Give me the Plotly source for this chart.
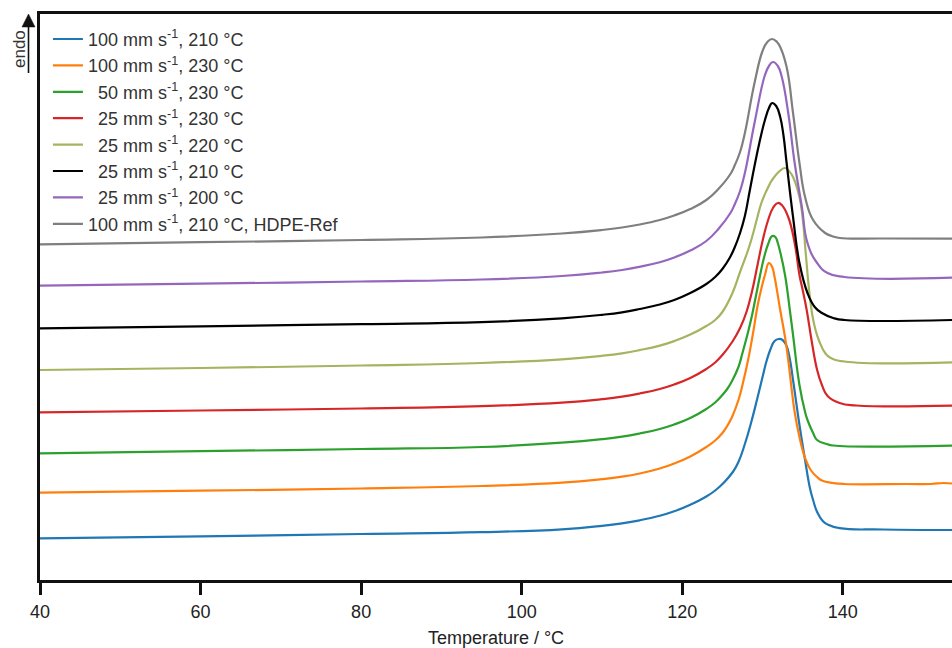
import plotly.graph_objects as go

# ---- data (temperature in °C, heat flow in arbitrary units, endo up, curves offset) ----
labels = [
    "100 mm s<sup>-1</sup>, 210 °C",
    "100 mm s<sup>-1</sup>, 230 °C",
    "\u00a0\u00a050 mm s<sup>-1</sup>, 230 °C",
    "\u00a0\u00a025 mm s<sup>-1</sup>, 230 °C",
    "\u00a0\u00a025 mm s<sup>-1</sup>, 220 °C",
    "\u00a0\u00a025 mm s<sup>-1</sup>, 210 °C",
    "\u00a0\u00a025 mm s<sup>-1</sup>, 200 °C",
    "100 mm s<sup>-1</sup>, 210 °C, HDPE-Ref",
]
colors = ["#1f77b4", "#ff7f0e", "#2ca02c", "#d62728", "#a4b461", "#000000", "#9467bd", "#7f7f7f"]

t_blue = [40, 60, 80, 95, 105, 110, 112.5, 114.7, 117.2, 119, 121, 123, 124.1, 125.2, 126.3, 127.0, 127.8, 128.6, 129.3, 130.0, 130.5, 131.0, 131.5, 132.0, 132.5, 133.0, 133.4, 133.8, 134.6, 135.3, 135.9, 136.3, 136.8, 137.5, 138.1, 139.6, 145, 153.6]
h_blue = [41.7, 43.7, 46, 47.8, 50.7, 54.2, 56.7, 59.7, 64.2, 68.7, 75.2, 83.5, 89.5, 97.5, 108, 118, 136, 158, 180, 203, 219, 231, 239, 241, 240, 234, 221, 200, 155, 120, 92, 80, 68, 59, 55.5, 51.8, 50.5, 50]

t_orange = [40, 60, 80, 95, 105, 110, 112.5, 114.7, 117.2, 119, 121, 123, 124.1, 125.0, 125.6, 126.2, 127.0, 127.5, 128.2, 128.8, 129.4, 129.9, 130.3, 130.8, 131.2, 131.5, 132.2, 132.8, 133.2, 134.0, 134.6, 135.3, 136.0, 136.8, 137.4, 138.8, 140.2, 148, 151, 152.5, 153.6]
h_orange = [87.3, 89.3, 91.5, 94, 97.3, 100.8, 103.3, 106.5, 111.5, 116.5, 123.5, 133, 139.5, 147, 154, 163, 180, 195, 220, 246, 275, 293, 305, 317, 313, 303, 270, 243, 220, 168, 143, 122, 110, 103, 99.5, 97, 96, 96, 96, 97, 96.5]

t_green = [40, 60, 80, 95, 105, 110, 112.5, 114.7, 117.2, 119, 121, 123, 124.1, 125.0, 125.6, 126.2, 127.0, 127.5, 128.2, 128.7, 129.2, 129.7, 130.2, 130.7, 131.2, 131.6, 131.9, 132.2, 132.8, 133.4, 133.8, 134.6, 135.3, 135.6, 136.3, 136.8, 138.0, 138.8, 153.6]
h_green = [126.7, 128.8, 131, 133, 137.3, 140.8, 143.3, 146.5, 151, 155.5, 162, 171, 177.5, 185, 191, 199, 213, 227, 248, 265, 285, 305, 323, 336, 344, 343, 337, 328, 305, 270, 245, 195, 168, 160, 147, 140, 136, 134.5, 134.3]

t_red = [40, 60, 80, 95, 105, 110, 112.5, 114.7, 117.2, 119, 121, 123, 124.1, 125.0, 126.3, 127.2, 128.0, 128.7, 129.4, 130.0, 130.7, 131.3, 131.9, 132.4, 133.2, 134.0, 134.6, 135.0, 135.5, 136.1, 136.8, 137.4, 138.1, 139.6, 141.7, 153.6]
h_red = [167.7, 169.5, 171.5, 173.8, 177.3, 180.8, 183.3, 186.5, 191, 195.5, 202, 211, 217.5, 225, 239, 252, 268, 289, 316, 339, 360, 372, 377, 375, 363, 337, 305, 290, 270, 240, 210, 195, 184, 177, 174.5, 174.3]

t_olive = [40, 60, 80, 95, 105, 110, 112.5, 114.7, 117.2, 119, 121, 123, 124.1, 125.0, 126.2, 127.2, 128.2, 128.7, 129.3, 129.9, 130.9, 131.2, 132.0, 132.8, 133.4, 133.8, 134.6, 135.0, 135.4, 135.8, 136.2, 136.6, 137.1, 137.8, 138.4, 140.2, 153.6]
h_olive = [210, 212, 214.5, 217, 220.7, 224.2, 226.7, 229.9, 234.4, 238.9, 245.4, 254, 260, 268, 286, 308, 330, 343, 361, 378, 396, 400, 408, 412, 408, 403, 383, 362, 325, 290, 265, 250, 238, 227, 222.5, 218.5, 217.7]

t_black = [40, 60, 80, 95, 105, 110, 112.5, 114.7, 117.2, 119, 121, 123, 124.1, 125.0, 125.9, 126.5, 127.2, 127.8, 128.4, 129.0, 129.6, 130.3, 130.8, 131.2, 131.7, 132.2, 132.6, 133.0, 133.8, 134.6, 135.6, 136.5, 137.4, 138.8, 140.2, 153.6]
h_black = [251.7, 253.7, 255.8, 257.8, 261.7, 265.2, 267.7, 271, 275.5, 280, 287, 296, 303, 311, 322, 332, 347, 364, 389, 414, 437, 460, 472, 477, 474, 463, 445, 417, 363, 317, 287, 273, 267, 262, 260, 260]

t_purple = [40, 60, 80, 95, 105, 110, 112.5, 114.7, 117.2, 119, 121, 123, 124.5, 126.0, 126.5, 127.2, 127.8, 129.0, 130.3, 130.8, 131.3, 131.9, 132.4, 133.2, 134.0, 134.9, 135.6, 136.8, 138.1, 140.2, 153.6]
h_purple = [294.3, 296.3, 298.5, 300.5, 304, 307.5, 310, 313.2, 317.7, 322.5, 329.5, 339, 351, 367, 375, 389, 407, 457, 505, 514, 518, 514, 503, 467, 417, 373, 337, 317, 307, 303, 302.3]

t_gray = [40, 60, 80, 95, 105, 110, 112.5, 114.7, 117.2, 119, 121, 123, 124.5, 126.0, 126.5, 127.2, 127.8, 129.0, 130.0, 130.6, 131.2, 131.8, 132.2, 133.0, 133.8, 134.6, 135.3, 136.3, 137.8, 138.6, 139.6, 145, 153.6]
h_gray = [335.7, 337.8, 340, 342.5, 346.5, 350, 352.5, 355.5, 360, 364.5, 371, 380, 391, 406, 414, 428, 447, 497, 529, 538, 541, 538, 533, 513, 467, 417, 383, 360, 347, 344, 342, 341.5, 341.3]

temps = [t_blue, t_orange, t_green, t_red, t_olive, t_black, t_purple, t_gray]
flows = [h_blue, h_orange, h_green, h_red, h_olive, h_black, h_purple, h_gray]

x_ticks = [40, 60, 80, 100, 120, 140]
x_range = [40, 153.6]
y_range = [0, 566]

# ---- figure ----
W, H = 952, 648
ML, MR, MT, MB = 40, 0, 14, 68
PW, PH = W - ML - MR, H - MT - MB

def px(xp):
    return (xp - ML) / PW

def py(yp):
    return (H - MB - yp) / PH

FONT = "Arial, Liberation Sans, Helvetica, sans-serif"

fig = go.Figure()
for t, h, lab, c in zip(temps, flows, labels, colors):
    fig.add_trace(go.Scatter(
        x=t, y=h, mode="lines", name=lab,
        line=dict(color=c, width=2.2, shape="spline", smoothing=1.3),
        hoverinfo="skip",
    ))

fig.update_layout(
    width=W, height=H,
    margin=dict(l=ML, r=MR, t=MT, b=MB, pad=0),
    paper_bgcolor="white", plot_bgcolor="white",
    font=dict(family=FONT, size=18, color="#333333"),
    showlegend=True,
    legend=dict(
        x=0.0087, y=0.988, xanchor="left", yanchor="top",
        bgcolor="rgba(0,0,0,0)", borderwidth=0,
        font=dict(family=FONT, size=18, color="#333333"),
        tracegroupgap=0, itemwidth=30,
    ),
    xaxis=dict(
        range=x_range, tickvals=x_ticks, ticktext=[str(v) for v in x_ticks],
        showgrid=False, zeroline=False,
        showline=True, linecolor="#111111", linewidth=2.5, mirror=True,
        ticks="outside", ticklen=12, tickwidth=2.5, tickcolor="#111111",
        ticklabelstandoff=2,
        tickfont=dict(family=FONT, size=18, color="#222222"),
        title=dict(text="Temperature / °C", font=dict(family=FONT, size=18, color="#222222"), standoff=12),
    ),
    yaxis=dict(
        range=y_range, showgrid=False, zeroline=False,
        showline=True, linecolor="#111111", linewidth=2.5,
        ticks="", showticklabels=False,
    ),
)

# endo arrow and label
fig.add_shape(type="line", xref="paper", yref="paper",
              x0=px(28.5), x1=px(28.5), y0=py(73), y1=py(24),
              line=dict(color="#111111", width=1.6))
fig.add_shape(type="path", xref="paper", yref="paper",
              path=f"M {px(22)} {py(27)} L {px(35)} {py(27)} L {px(28.5)} {py(14)} Z",
              fillcolor="#111111", line=dict(color="#111111", width=0.5))
fig.add_annotation(xref="paper", yref="paper", x=px(19), y=py(49),
                   text="endo", showarrow=False, textangle=-90,
                   font=dict(family=FONT, size=17, color="#333333"),
                   xanchor="center", yanchor="middle")

fig.write_html("out.html", config={"displayModeBar": False},
               post_script="document.body.style.margin='0px';")
